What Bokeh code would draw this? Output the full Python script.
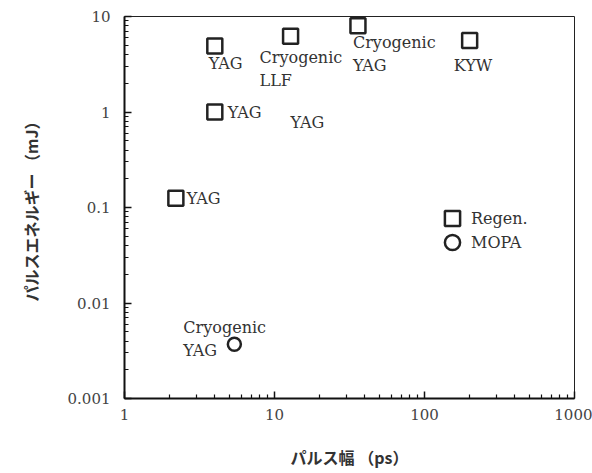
from bokeh.plotting import figure
from bokeh.models import (ColumnDataSource, FixedTicker, CustomJSTickFormatter,
                          Legend, LegendItem)
from bokeh.core.properties import value
from bokeh.embed import file_html
from bokeh.resources import INLINE

# ---- data ----
regen_width = [4.0, 4.0, 2.2, 12.8, 36.0, 200.0]
regen_energy = [4.9, 1.0, 0.125, 6.2, 8.0, 5.6]
mopa_width = [5.4]
mopa_energy = [0.0037]

label_x = [4.0, 12.8, 36.0, 200.0, 4.0, 17.4, 2.2, 5.4]
label_y = [4.9, 6.2, 8.0, 5.6, 1.0, 0.78, 0.125, 0.0037]
label_text = ["YAG", "Cryogenic\nLLF", "Cryogenic\nYAG", "KYW", "YAG", "YAG", "YAG",
              "Cryogenic\nYAG"]
label_dx = [-6, -31, -5, -16, 13, -20, 11, -51]
label_dy = [8, 12, 7, 15, -9, -9, -9, -26]

x_major = [1, 10, 100, 1000]
y_major = [0.001, 0.01, 0.1, 1, 10]
x_minor = [m * d for d in x_major[:-1] for m in range(2, 10)]
y_minor = [m * d for d in y_major[:-1] for m in range(2, 10)]

SERIF = "DejaVu Serif"
CJK = "Noto Sans CJK JP"

p = figure(width=592, height=473, x_axis_type="log", y_axis_type="log",
           x_range=(1, 1000), y_range=(0.001, 10),
           frame_width=450, frame_height=382,
           output_backend="svg", toolbar_location=None,
           min_border_left=124, min_border_right=18, min_border_top=16,
           min_border_bottom=75)
p.xgrid.visible = False
p.ygrid.visible = False
p.outline_line_color = "#222222"
p.outline_line_width = 1
p.background_fill_color = "white"
p.border_fill_color = "white"

fmt = CustomJSTickFormatter(code="return tick.toString();")
p.xaxis.ticker = FixedTicker(ticks=x_major, minor_ticks=x_minor)
p.yaxis.ticker = FixedTicker(ticks=y_major, minor_ticks=y_minor)
for ax in (p.xaxis[0], p.yaxis[0]):
    ax.formatter = fmt
    ax.axis_line_width = 2
    ax.axis_line_color = "#111111"
    ax.major_tick_in = 7
    ax.major_tick_out = 0
    ax.minor_tick_in = 4
    ax.minor_tick_out = 0
    ax.major_tick_line_width = 1.5
    ax.minor_tick_line_width = 1.2
    ax.major_tick_line_color = "#111111"
    ax.minor_tick_line_color = "#111111"
    ax.major_label_text_font = SERIF
    ax.major_label_text_font_size = "15px"
    ax.major_label_text_color = "#444444"
    ax.axis_label_text_font = CJK
    ax.axis_label_text_font_size = "16px"
    ax.axis_label_text_font_style = "bold"
    ax.axis_label_text_color = "#333333"

p.xaxis.axis_label = "パルス幅 （ps）"
p.yaxis.axis_label = "パルスエネルギー （mJ）"
p.xaxis.major_label_standoff = 10
p.yaxis.major_label_standoff = 14
p.xaxis.axis_label_standoff = 22
p.yaxis.axis_label_standoff = 22

src_r = ColumnDataSource(dict(x=regen_width, y=regen_energy))
src_m = ColumnDataSource(dict(x=mopa_width, y=mopa_energy))
r1 = p.scatter("x", "y", source=src_r, marker="square", size=15,
               fill_color="white", line_color="#222222", line_width=2.5)
r2 = p.scatter("x", "y", source=src_m, marker="circle", size=13,
               fill_color="white", line_color="#222222", line_width=2.5)

src_l = ColumnDataSource(dict(x=label_x, y=label_y, t=label_text,
                              dx=label_dx, dy=label_dy))
p.text("x", "y", text="t", source=src_l, x_offset="dx", y_offset="dy",
       text_font=value(SERIF), text_font_size="16px", text_color="#333333",
       text_align="left", text_baseline="top", text_line_height=1.2)

legend_style = dict(padding=0, margin=0, spacing=0,
                    glyph_width=38, glyph_height=38, label_standoff=0,
                    border_line_color=None, background_fill_alpha=0,
                    label_text_font=SERIF, label_text_font_size="16px",
                    label_text_color="#333333")
leg1 = Legend(items=[LegendItem(label="Regen.", renderers=[r1])],
              location=(309, 161), **legend_style)
leg2 = Legend(items=[LegendItem(label="MOPA", renderers=[r2])],
              location=(309, 137), **legend_style)
p.add_layout(leg1)
p.add_layout(leg2)

open("out.html", "w").write(file_html(p, INLINE))
